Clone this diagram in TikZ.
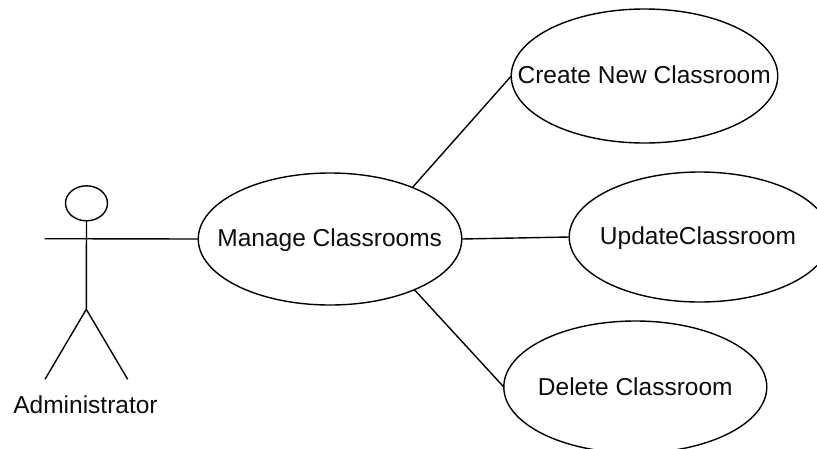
\documentclass[tikz,border=0pt]{standalone}
\usepackage{fontspec}
\setmainfont{Liberation Sans}
\usetikzlibrary{shapes.geometric}
\tikzset{usecase/.style={draw,ellipse,inner sep=0pt,minimum height=132,outer sep=0pt},
lab/.style={font=\fontsize{24.5}{28}\selectfont,inner sep=0pt,anchor=base,text=black!95}}
\begin{document}
\begin{tikzpicture}[x=1pt,y=-1pt,line width=1.4pt]
\useasboundingbox (0,0) rectangle (817,448);
\clip (0,0) rectangle (817,448);
\node[usecase,minimum width=263.5] (m) at (330,239) {};
\node[usecase,minimum width=266.5,minimum height=134] (c) at (644.5,76) {};
\node[usecase,minimum width=261,minimum height=130] (u) at (699.7,237) {};
\node[usecase,minimum width=263] (d) at (635.3,387) {};
\node[lab] at (329.7,246) {Manage Classrooms};
\node[lab] at (644.2,83.3) {Create New Classroom};
\node[lab] at (698,244) {UpdateClassroom};
\node[lab] at (635.3,395) {Delete Classroom};
\node[lab] (al) at (85.5,413.3) {Administrator};
\node[draw,ellipse,minimum width=42,minimum height=35,inner sep=0pt,outer sep=0pt] (h) at (86.5,203.3) {};
\coordinate (handl) at (44.7,238.7);
\coordinate (crot) at (86.3,309.3);
\coordinate (fl) at (45,379.3);
\coordinate (fr) at (127.7,379.3);
\draw (h.south) -- (crot);
\draw (crot) -- (fl);
\draw (crot) -- (fr);
\draw (handl) -- (m.west);
\draw (m.32.5) -- (c.west);
\draw (m.east) -- (u.west);
\draw (m.-31.5) -- (d.west);
\end{tikzpicture}
\end{document}
